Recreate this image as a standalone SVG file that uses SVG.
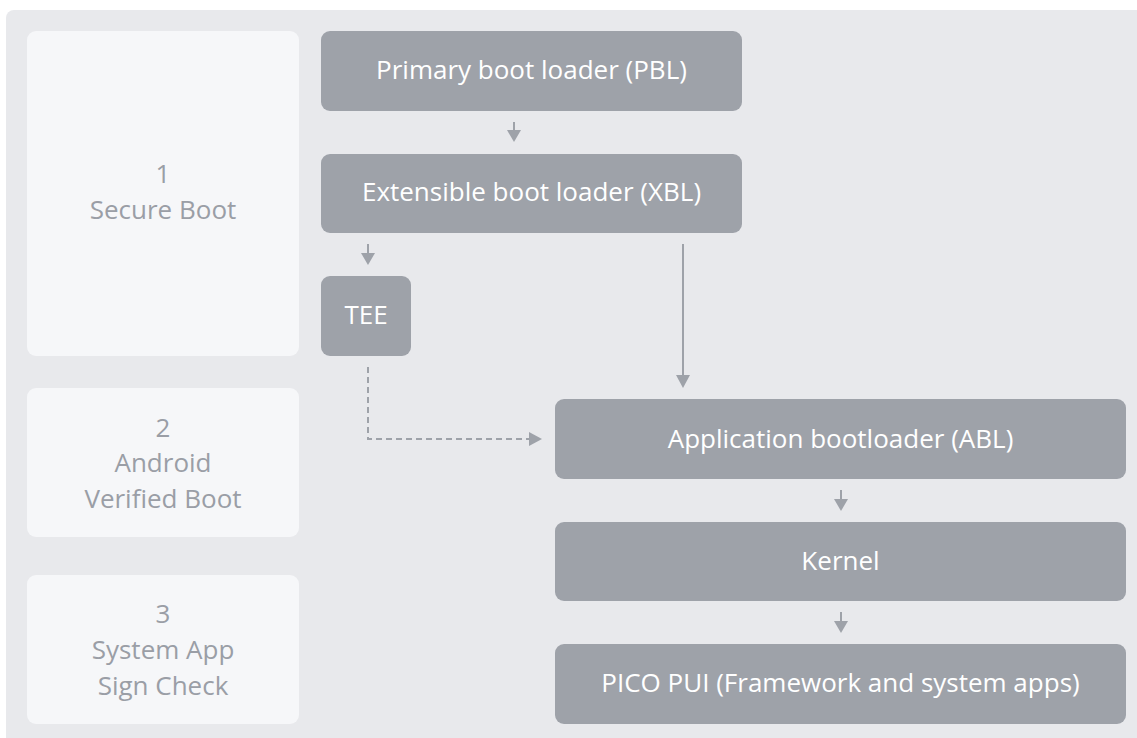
<svg xmlns="http://www.w3.org/2000/svg" width="1137" height="738" viewBox="0 0 1137 738">
<defs>
<style>
.bg{fill:#E8E9EC}
.panel{fill:#F6F7F9}
.box{fill:#9EA2A9}
.pt{font-family:"Open Sans","Liberation Sans",sans-serif;font-size:26px;fill:#9A9EA6;text-anchor:middle}
.bt{font-family:"Open Sans","Liberation Sans",sans-serif;font-size:26px;fill:#FFFFFF;text-anchor:middle}
.ln{stroke:#9EA2A9;stroke-width:2;fill:none}
.dash{stroke:#9EA2A9;stroke-width:2;fill:none;stroke-dasharray:6 4}
.head{fill:#9EA2A9}
</style>
</defs>
<rect class="bg" x="6" y="10" width="1140" height="740" rx="8"/>
<g id="panel1"><rect class="panel" x="27" y="31" width="272" height="325" rx="9"/><text class="pt" x="163" y="183">1</text><text class="pt" x="163" y="219">Secure Boot</text></g>
<g id="panel2"><rect class="panel" x="27" y="388" width="272" height="149" rx="9"/><text class="pt" x="163" y="437">2</text><text class="pt" x="163" y="472">Android</text><text class="pt" x="163" y="508">Verified Boot</text></g>
<g id="panel3"><rect class="panel" x="27" y="575" width="272" height="149" rx="9"/><text class="pt" x="163" y="623">3</text><text class="pt" x="163" y="659">System App</text><text class="pt" x="163" y="695">Sign Check</text></g>
<g id="pbl"><rect class="box" x="321" y="31" width="421" height="80" rx="9"/><text class="bt" x="531.5" y="79">Primary boot loader (PBL)</text></g>
<g id="xbl"><rect class="box" x="321" y="154" width="421" height="79" rx="9"/><text class="bt" x="531.5" y="201">Extensible boot loader (XBL)</text></g>
<g id="tee"><rect class="box" x="321" y="276" width="90" height="80" rx="9"/><text class="bt" x="366" y="324">TEE</text></g>
<g id="abl"><rect class="box" x="555" y="399" width="571" height="80" rx="9"/><text class="bt" x="840.5" y="448">Application bootloader (ABL)</text></g>
<g id="kernel"><rect class="box" x="555" y="522" width="571" height="79" rx="9"/><text class="bt" x="840.5" y="570">Kernel</text></g>
<g id="pui"><rect class="box" x="555" y="644" width="571" height="80" rx="9"/><text class="bt" x="840.5" y="692">PICO PUI (Framework and system apps)</text></g>
<g id="connectors">
<line class="ln" x1="514" y1="122" x2="514" y2="132"/><polygon class="head" points="507,130 521,130 514,142"/>
<line class="ln" x1="368" y1="244" x2="368" y2="255"/><polygon class="head" points="361,253 375,253 368,265"/>
<line class="ln" x1="683" y1="244" x2="683" y2="376"/><polygon class="head" points="676,375 690,375 683,388"/>
<line class="ln" x1="841" y1="490" x2="841" y2="501"/><polygon class="head" points="834,499 848,499 841,511"/>
<line class="ln" x1="841" y1="612" x2="841" y2="623"/><polygon class="head" points="834,621 848,621 841,633"/>
<polyline class="dash" points="368,367 368,439 529,439"/><polygon class="head" points="529,432 529,446 542,439"/>
</g>
</svg>
